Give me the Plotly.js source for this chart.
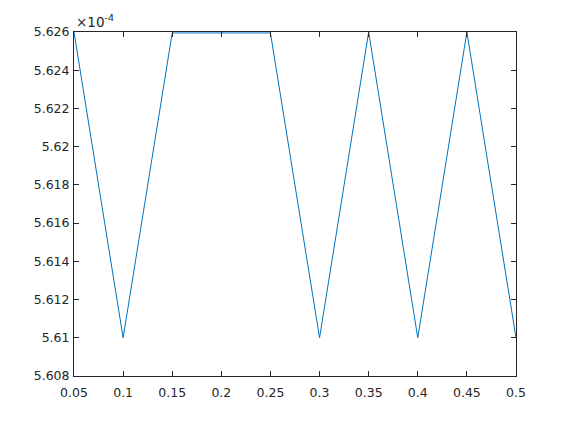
<!DOCTYPE html>
<html>
<head>
<meta charset="utf-8">
<script src="https://cdn.plot.ly/plotly-3.0.1.min.js"></script>
<style>
  body { margin: 0; background: #fff; }
  #myDiv { width: 570px; height: 422px; }
</style>
</head>
<body>
<div id="myDiv"></div>
<script>
// values in units of 1e-4
var xs = [0.05, 0.1, 0.15, 0.2, 0.25, 0.3, 0.35, 0.4, 0.45, 0.5];
var ys = [5.626, 5.610, 5.62595, 5.62595, 5.62595, 5.610, 5.626, 5.610, 5.626, 5.610];

var xTicks = [0.05, 0.1, 0.15, 0.2, 0.25, 0.3, 0.35, 0.4, 0.45, 0.5];
var xLabels = ['0.05', '0.1', '0.15', '0.2', '0.25', '0.3', '0.35', '0.4', '0.45', '0.5'];
var yTicks = [5.608, 5.610, 5.612, 5.614, 5.616, 5.618, 5.620, 5.622, 5.624, 5.626];
var yLabels = ['5.608', '5.61', '5.612', '5.614', '5.616', '5.618', '5.62', '5.622', '5.624', '5.626'];

var trace1 = {
    x: xs,
    y: ys,
    mode: 'lines',
    type: 'scatter',
    line: { color: '#0072BD', width: 1 }
};

var axisStyle = {
    showgrid: false,
    zeroline: false,
    showline: true,
    mirror: 'ticks',
    linecolor: '#262626',
    linewidth: 1,
    ticks: 'inside',
    ticklen: 5,
    tickcolor: '#262626',
    tickfont: { family: 'DejaVu Sans', size: 12.5, color: '#262626' }
};

var layout = {
    width: 570,
    height: 422,
    margin: { l: 74, r: 54, t: 32, b: 46 },
    paper_bgcolor: '#fff',
    plot_bgcolor: '#fff',
    showlegend: false,
    xaxis: Object.assign({}, axisStyle, {
        range: [0.05, 0.5],
        tickmode: 'array',
        tickvals: xTicks,
        ticktext: xLabels,
        ticklabelstandoff: 5
    }),
    yaxis: Object.assign({}, axisStyle, {
        range: [5.608, 5.626],
        tickmode: 'array',
        tickvals: yTicks,
        ticktext: yLabels,
        ticklabelstandoff: 1
    }),
    annotations: [{
        xref: 'paper', yref: 'paper',
        x: 0, y: 1,
        xanchor: 'left', yanchor: 'bottom',
        showarrow: false,
        text: '×10<sup>-4</sup>',
        font: { family: 'DejaVu Sans', size: 13.5, color: '#262626' }
    }]
};

Plotly.newPlot('myDiv', [trace1], layout, { displayModeBar: false, staticPlot: true });
</script>
</body>
</html>
